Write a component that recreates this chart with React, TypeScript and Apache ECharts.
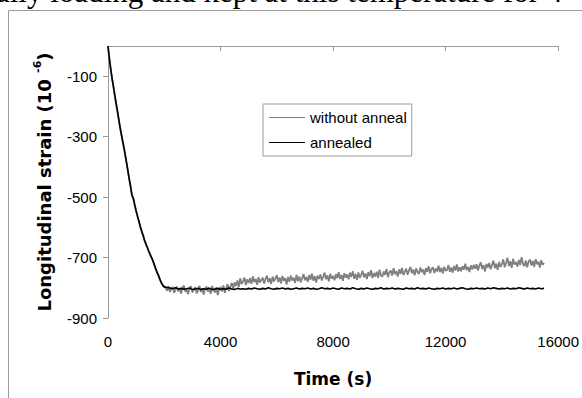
import React, { useEffect, useRef } from "react";
import * as echarts from "echarts";

// ---- data ----
const SERIES_NAMES = ["without anneal", "annealed"];
const X_TICKS = [0, 4000, 8000, 12000, 16000];
const Y_TICKS = [-900, -700, -500, -300, -100];

// sampling of the traces (seconds between samples)
const DECAY_STEP_S = 50;
const GRAY_PLATEAU_START_S = 2050;
const GRAY_PLATEAU_STEP_S = 50;
const BLACK_PLATEAU_START_S = 2100;
const BLACK_PLATEAU_STEP_S = 100;

// without anneal: 0..2000 s every 50 s
const grayDecay = [
  -3, -45, -80, -112, -140, -170, -198, -225, -255, -282,
  -306, -330, -355, -383, -410, -440, -466, -496, -506, -528,
  -548, -565, -582, -600, -615, -628, -645, -657, -668, -680,
  -692, -702, -712, -728, -740, -752, -762, -775, -785, -792,
  -798,
];
// without anneal: 2050..15500 s every 50 s
const grayPlateau = [
  -800, -810, -794, -814, -803, -797, -817, -806, -796, -812,
  -804, -819, -799, -793, -813, -807, -821, -800, -795, -815,
  -806, -798, -818, -809, -793, -814, -802, -822, -803, -796,
  -813, -803, -820, -794, -808, -816, -799, -824, -806, -797,
  -812, -792, -817, -801, -788, -811, -796, -784, -803, -782,
  -794, -776, -797, -769, -788, -778, -766, -791, -772, -784,
  -768, -787, -762, -781, -771, -790, -765, -783, -774, -767,
  -786, -770, -760, -782, -768, -788, -763, -779, -769, -758,
  -781, -766, -785, -761, -777, -768, -789, -764, -780, -759,
  -776, -767, -784, -757, -778, -763, -782, -768, -755, -775,
  -764, -780, -758, -773, -753, -777, -762, -783, -760, -771,
  -756, -776, -763, -750, -772, -759, -779, -754, -770, -761,
  -775, -755, -768, -748, -771, -758, -777, -752, -766, -756,
  -772, -750, -764, -745, -770, -754, -774, -749, -767, -757,
  -744, -765, -753, -771, -748, -762, -742, -768, -751, -763,
  -747, -767, -740, -759, -764, -746, -757, -738, -765, -749,
  -743, -760, -735, -755, -745, -763, -739, -754, -734, -758,
  -746, -737, -757, -742, -731, -752, -740, -759, -736, -748,
  -754, -733, -749, -739, -758, -735, -747, -729, -752, -738,
  -732, -751, -736, -746, -727, -748, -734, -753, -731, -744,
  -741, -725, -747, -733, -750, -728, -743, -723, -746, -732,
  -745, -729, -740, -720, -742, -731, -748, -726, -739, -724,
  -737, -722, -743, -727, -716, -738, -725, -746, -721, -733,
  -718, -739, -724, -710, -735, -720, -741, -714, -731, -722,
  -706, -732, -717, -701, -728, -712, -734, -704, -723, -715,
  -730, -708, -725, -699, -721, -729, -710, -732, -713, -707,
  -726, -711, -731, -705, -722, -714, -733, -709, -724, -718,
];

// annealed: 0..2000 s every 50 s
const blackDecay = [
  0, -42, -78, -110, -138, -168, -196, -224, -252, -280,
  -304, -328, -353, -380, -408, -437, -462, -493, -503, -525,
  -545, -563, -580, -598, -613, -627, -643, -655, -667, -679,
  -690, -700, -711, -724, -737, -750, -760, -773, -784, -792,
  -797,
];
// annealed: 2100..15500 s every 100 s
const blackPlateau = [
  -799, -801, -803, -800, -804, -802, -805, -803, -801, -806,
  -804, -802, -806, -803, -805, -801, -806, -804, -802, -805,
  -803, -805, -801, -804, -806, -802, -804, -803, -805, -802,
  -804, -801, -803, -805, -802, -804, -800, -803, -805, -802,
  -803, -801, -804, -802, -805, -803, -801, -804, -802, -803,
  -801, -804, -802, -805, -803, -800, -803, -802, -804, -801,
  -803, -805, -801, -803, -802, -804, -800, -803, -805, -802,
  -804, -801, -803, -805, -802, -803, -800, -804, -802, -803,
  -801, -804, -802, -803, -805, -801, -803, -802, -804, -800,
  -803, -802, -804, -801, -803, -805, -802, -803, -801, -804,
  -802, -803, -801, -804, -802, -800, -803, -805, -802, -803,
  -801, -803, -802, -804, -801, -803, -800, -802, -804, -802,
  -803, -801, -804, -802, -803, -800, -802, -804, -801, -803,
  -802, -804, -801, -803, -802,
];

const HEADER_TEXT = "ally loading and kept at this temperature for 4";

function toPairs(values: number[], start: number, step: number): number[][] {
  return values.map((v, i) => [start + i * step, v]);
}

export default function App() {
  const ref = useRef<HTMLDivElement | null>(null);

  useEffect(() => {
    if (!ref.current) return;
    const chart = echarts.init(ref.current, null, { renderer: "svg" });

    const grayData = toPairs(grayDecay, 0, DECAY_STEP_S).concat(
      toPairs(grayPlateau, GRAY_PLATEAU_START_S, GRAY_PLATEAU_STEP_S)
    );
    const blackData = toPairs(blackDecay, 0, DECAY_STEP_S).concat(
      toPairs(blackPlateau, BLACK_PLATEAU_START_S, BLACK_PLATEAU_STEP_S)
    );

    const sans = "'Liberation Sans', Arial, sans-serif";
    const titleFont = "'DejaVu Sans', sans-serif";
    const axisGray = "#9a9a9a";

    chart.setOption({
      animation: false,
      backgroundColor: "#ffffff",
      graphic: [
        {
          type: "rect",
          silent: true,
          z: -10,
          shape: { x: 8.5, y: 10.5, width: 900, height: 600 },
          style: { fill: "none", stroke: "#9c9c9c", lineWidth: 1 },
        },
        {
          type: "text",
          silent: true,
          x: -4,
          y: -8.5,
          style: {
            text: HEADER_TEXT,
            font: "31px 'Liberation Serif', 'Times New Roman', serif",
            fill: "#000",
            verticalAlign: "middle",
            align: "left",
          },
        },
      ],
      grid: { left: 108, right: 23, top: 46, bottom: 80, containLabel: false },
      legend: {
        data: SERIES_NAMES,
        orient: "vertical",
        left: 263,
        top: 104,
        icon: "rect",
        itemWidth: 36,
        itemHeight: 1.2,
        itemGap: 10,
        padding: [6, 5, 6, 6],
        borderColor: "#999",
        borderWidth: 1,
        backgroundColor: "#fff",
        textStyle: { fontFamily: sans, fontSize: 15, color: "#000" },
      },
      xAxis: {
        type: "value",
        min: 0,
        max: 16000,
        interval: 4000,
        name: "Time (s)",
        nameLocation: "middle",
        nameGap: 51,
        nameMoveOverlap: false,
        nameTextStyle: {
          fontFamily: titleFont,
          fontWeight: "bold",
          fontSize: 17,
          lineHeight: 20,
          color: "#000",
        },
        axisLine: { show: true, lineStyle: { color: axisGray, width: 1 } },
        axisTick: { show: true, length: 5, inside: false, lineStyle: { color: axisGray } },
        axisLabel: {
          fontFamily: sans,
          fontSize: 15,
          color: "#000",
          margin: 16,
          customValues: X_TICKS,
          formatter: (v: number) => String(v),
        },
        splitLine: { show: false },
      },
      yAxis: {
        type: "value",
        min: -900,
        max: 0,
        interval: 200,
        name: "{t|Longitudinal strain (10 }{sup|-6}{t|)}",
        nameLocation: "middle",
        nameRotate: 90,
        nameGap: 52,
        nameMoveOverlap: false,
        nameTextStyle: {
          rich: {
            t: {
              fontFamily: titleFont,
              fontWeight: "bold",
              fontSize: 18,
              lineHeight: 24,
              color: "#000",
            },
            sup: {
              fontFamily: titleFont,
              fontWeight: "bold",
              fontSize: 11,
              lineHeight: 11,
              verticalAlign: "top",
              color: "#000",
            },
          },
        },
        axisLine: { show: true, onZero: false, lineStyle: { color: axisGray, width: 1 } },
        axisTick: {
          show: true,
          length: 5,
          inside: false,
          lineStyle: { color: axisGray },
          customValues: Y_TICKS,
        },
        axisLabel: {
          fontFamily: sans,
          fontSize: 15,
          color: "#000",
          margin: 11,
          customValues: Y_TICKS,
          formatter: (v: number) => String(v),
        },
        splitLine: { show: false },
      },
      series: [
        {
          name: SERIES_NAMES[0],
          type: "line",
          data: grayData,
          symbol: "none",
          showSymbol: false,
          lineStyle: { color: "#808080", width: 1.8 },
          itemStyle: { color: "#808080" },
          z: 2,
        },
        {
          name: SERIES_NAMES[1],
          type: "line",
          data: blackData,
          symbol: "none",
          showSymbol: false,
          lineStyle: { color: "#000000", width: 1.6 },
          itemStyle: { color: "#000000" },
          z: 3,
        },
      ],
    });

    return () => {
      chart.dispose();
    };
  }, []);

  return (
    <div
      ref={ref}
      style={{ position: "absolute", left: 0, top: 0, width: 582, height: 398 }}
    />
  );
}
